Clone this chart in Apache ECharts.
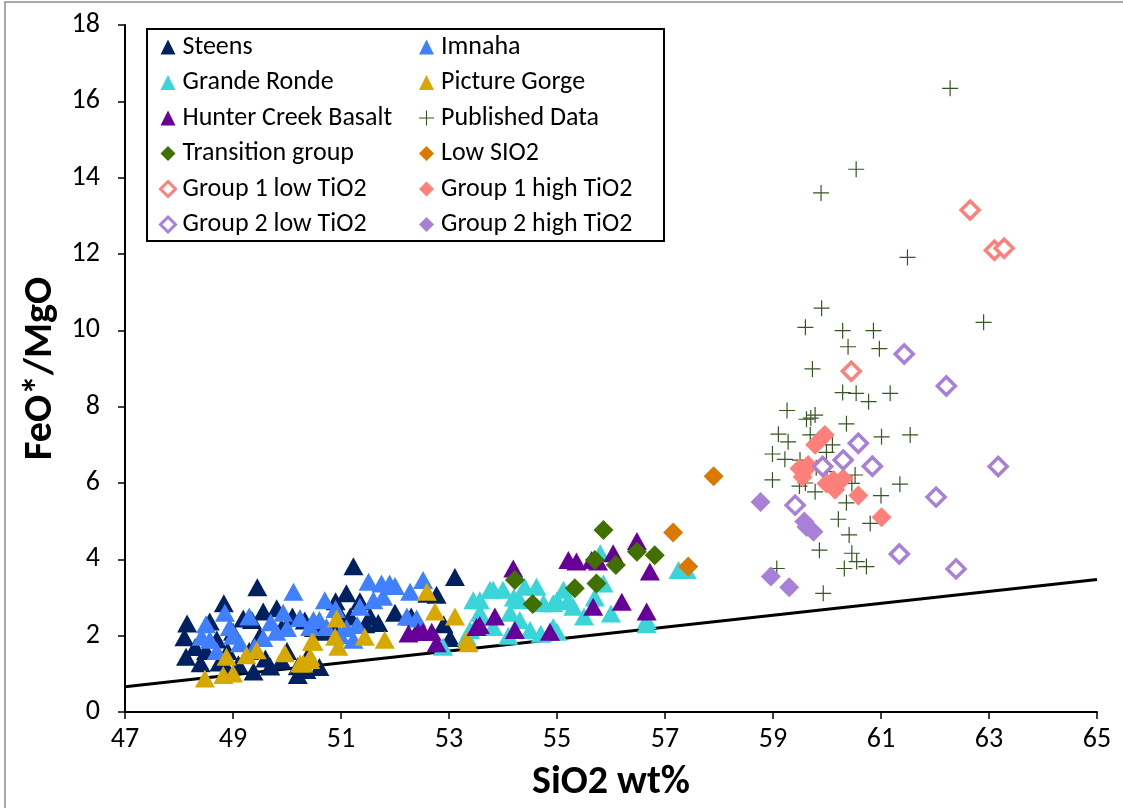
<!DOCTYPE html>
<html>
<head>
<meta charset="utf-8">
<script src="https://cdn.jsdelivr.net/npm/echarts@6/dist/echarts.min.js"></script>
<style>
html,body{margin:0;padding:0;background:#fff;}
#chart{width:1123px;height:808px;}
</style>
</head>
<body>
<div id="chart"></div>
<script>
// ---- Data (SiO2 wt%, FeO*/MgO) ----
var X_TICKS = [47, 49, 51, 53, 55, 57, 59, 61, 63, 65];
var Y_TICKS = [0, 2, 4, 6, 8, 10, 12, 14, 16, 18];

var DIVIDE_LINE = [[47, 0.66], [65, 3.47]];

var STEENS = [[48.15,2.32],[48.1,1.96],[48.13,1.45],[48.4,1.28],[48.57,2.37],[48.5,1.6],[48.7,1.9],[48.83,2.85],[48.75,1.3],[48.9,1.1],[49.0,2.1],[49.19,2.45],[49.35,2.41],[49.3,1.6],[49.38,1.06],[49.45,3.27],[49.56,2.63],[49.5,2.0],[49.6,1.4],[49.69,1.19],[49.81,2.72],[49.9,2.2],[50.0,1.6],[50.1,2.5],[50.2,0.97],[50.2,1.2],[50.33,2.4],[50.36,1.1],[50.5,2.2],[50.6,1.18],[50.64,2.1],[50.86,2.2],[50.9,2.9],[51.0,2.5],[51.1,3.11],[51.17,2.5],[51.23,3.82],[51.35,2.9],[51.45,2.3],[51.54,2.5],[51.69,2.33],[52.0,2.6],[52.3,2.5],[52.4,2.1],[52.6,3.1],[52.77,3.07],[52.9,2.3],[53.02,1.94],[53.11,3.54],[48.3,1.7],[48.9,1.6],[49.1,1.25],[49.9,1.35],[50.4,1.5]];

var IMNAHA = [[48.42,1.97],[48.57,1.89],[48.5,2.3],[48.85,2.6],[48.94,2.23],[49.13,1.8],[49.0,2.0],[49.3,2.5],[49.56,1.94],[49.8,2.1],[49.93,2.6],[50.12,3.15],[50.24,2.46],[50.43,2.23],[50.49,2.41],[50.6,2.41],[50.7,2.93],[50.73,2.23],[50.98,2.02],[51.23,1.89],[51.3,2.28],[51.35,2.76],[51.51,3.41],[51.6,2.93],[51.75,3.37],[51.78,3.02],[51.9,3.37],[52.22,2.5],[52.28,3.15],[52.4,2.45],[52.52,3.46],[49.7,2.35],[50.0,2.2],[48.7,1.6],[49.4,1.7],[50.9,2.7],[51.1,2.2],[52.0,3.3]];

var GRANDE_RONDE = [[52.89,1.71],[53.33,1.97],[53.39,2.15],[53.45,2.93],[53.57,2.93],[53.57,2.6],[53.76,3.2],[53.82,3.2],[53.82,2.23],[54.0,3.2],[54.13,2.6],[54.31,2.93],[54.31,2.41],[54.4,3.28],[54.5,2.15],[54.62,3.28],[54.75,2.85],[54.93,2.85],[54.93,2.23],[55.0,2.93],[55.12,3.2],[55.3,2.76],[55.5,2.5],[55.7,3.0],[55.8,4.16],[55.86,3.37],[56.0,2.58],[56.66,2.41],[57.25,3.72],[57.4,3.72],[54.1,2.0],[54.7,2.05],[55.0,2.1],[53.6,2.5],[54.2,3.0],[55.2,2.9],[56.66,2.3]];

var PICTURE_GORGE = [[48.48,0.88],[48.82,0.97],[49.0,1.01],[48.88,1.45],[49.25,1.49],[49.44,1.62],[49.96,1.54],[50.24,1.27],[50.3,1.27],[50.46,1.84],[50.43,1.36],[50.49,1.84],[50.43,1.45],[50.92,2.45],[50.89,1.97],[50.95,1.71],[51.44,1.97],[51.81,1.89],[52.59,3.15],[52.74,2.63],[53.11,2.5],[53.33,1.89],[53.36,1.8]];

var HUNTER_CREEK = [[52.25,2.06],[52.43,2.1],[52.52,2.1],[52.68,2.1],[52.77,1.8],[53.51,2.23],[53.57,2.28],[53.85,2.5],[54.19,3.76],[54.22,2.15],[54.87,2.1],[55.21,3.98],[55.36,3.94],[55.64,3.98],[55.76,3.94],[55.67,2.76],[56.04,4.16],[56.2,2.89],[56.48,4.48],[56.66,2.63],[56.72,3.68]];

var PUBLISHED = [[62.28,16.34],[60.54,14.22],[59.89,13.6],[61.49,11.91],[62.9,10.21],[59.9,10.58],[59.6,10.08],[60.29,9.99],[60.86,9.99],[60.39,9.57],[60.97,9.52],[59.73,8.99],[60.49,8.92],[60.29,8.37],[60.54,8.35],[60.77,8.13],[61.17,8.35],[59.26,7.9],[59.62,7.67],[59.78,7.78],[59.7,7.7],[60.36,7.55],[59.1,7.28],[59.28,7.08],[61.54,7.26],[61.01,7.21],[59.69,7.26],[60.1,7.0],[58.99,6.76],[59.22,6.62],[59.99,6.8],[59.49,5.92],[58.99,6.08],[59.78,5.77],[60.52,6.21],[60.46,5.99],[61.35,5.97],[60.36,5.48],[61.0,5.67],[60.21,5.05],[60.8,4.94],[60.41,4.64],[59.86,4.24],[60.46,4.16],[60.55,3.94],[60.32,3.76],[60.73,3.81],[59.07,3.76],[59.93,3.11],[59.8,6.4],[60.0,6.3],[59.6,6.0],[59.5,6.6]];

var TRANSITION = [[55.86,4.77],[56.48,4.2],[56.81,4.11],[55.7,3.98],[56.09,3.85],[55.33,3.24],[55.73,3.37],[54.22,3.46],[54.55,2.83]];

var LOW_SIO2 = [[57.15,4.7],[57.43,3.81],[57.9,6.18]];

var G1_LOW = [[62.65,13.15],[63.1,12.1],[63.28,12.15],[60.45,8.93]];

var G1_HIGH = [[59.88,7.14],[59.96,7.26],[59.78,7.0],[59.49,6.38],[59.6,6.34],[59.65,6.47],[59.55,6.16],[60.12,6.08],[59.99,5.99],[60.3,6.12],[60.15,5.82],[60.58,5.67],[61.01,5.1]];

var G2_LOW = [[59.41,5.42],[59.92,6.43],[60.3,6.6],[60.58,7.04],[60.84,6.44],[61.34,4.14],[61.43,9.38],[62.21,8.54],[63.17,6.43],[62.02,5.63],[62.39,3.75]];

var G2_HIGH = [[58.77,5.5],[59.58,4.99],[59.62,4.85],[59.75,4.72],[58.96,3.55],[59.3,3.27]];

// ---- Chart ----
var FONT = 'Carlito, Lato, "Open Sans", sans-serif';
var CROSS = 'path://M0,7.4H16V8.6H0Z M7.4,0H8.6V16H7.4Z';
var TRI = [20, 18];

function tri(name, data, color) {
  return {name: name, type: 'scatter', data: data, symbol: 'triangle', symbolSize: TRI,
    itemStyle: {color: color, opacity: 1}, emphasis: {disabled: true}};
}
function dia(name, data, color, hollow) {
  return {name: name, type: 'scatter', data: data, symbol: 'diamond',
    symbolSize: hollow ? 18 : 20,
    itemStyle: hollow ? {color: '#ffffff', borderColor: color, borderWidth: 3.5, opacity: 1}
                      : {color: color, opacity: 1},
    emphasis: {disabled: true}};
}

var C = {
  steens: '#002060', imnaha: '#4080ff', grande: '#3ad5d8', picture: '#d6a800',
  hunter: '#660099', pub: '#375623', trans: '#407000', low: '#da7800',
  g1: '#ff7f7a', g2: '#a880d8'
};

var series = [
  {name: 'divide', type: 'line', data: DIVIDE_LINE, symbol: 'none', silent: true,
   lineStyle: {color: '#000', width: 3}, z: 1},
  tri('Steens', STEENS, C.steens),
  tri('Imnaha', IMNAHA, C.imnaha),
  tri('Grande Ronde', GRANDE_RONDE, C.grande),
  tri('Picture Gorge', PICTURE_GORGE, C.picture),
  tri('Hunter Creek Basalt', HUNTER_CREEK, C.hunter),
  {name: 'Published Data', type: 'scatter', data: PUBLISHED, symbol: CROSS, symbolSize: 16,
   itemStyle: {color: C.pub, opacity: 1}, emphasis: {disabled: true}},
  dia('Transition group', TRANSITION, C.trans, false),
  dia('Low SIO2', LOW_SIO2, C.low, false),
  dia('Group 1 low TiO2', G1_LOW, C.g1, true),
  dia('Group 1 high TiO2', G1_HIGH, C.g1, false),
  dia('Group 2 low TiO2', G2_LOW, C.g2, true),
  dia('Group 2 high TiO2', G2_HIGH, C.g2, false)
];

function legItem(name, icon, color, hollow) {
  var it = {name: name, icon: icon};
  it.itemStyle = hollow ? {color: '#ffffff', borderColor: color, borderWidth: 3}
                        : {color: color, borderWidth: 0};
  return it;
}
var legendCommon = {
  orient: 'vertical', itemWidth: 15, itemHeight: 15, itemGap: 9.5,
  textStyle: {fontFamily: FONT, fontSize: 26, color: '#000', lineHeight: 26, padding: [0,0,0,2]},
  padding: 0, selectedMode: false, z: 10
};

var option = {
  backgroundColor: '#ffffff',
  animation: false,
  grid: {left: 125, right: 26, top: 25, bottom: 96, containLabel: false},
  xAxis: {
    type: 'value', min: X_TICKS[0], max: X_TICKS[X_TICKS.length - 1], interval: 2,
    name: 'SiO2 wt%', nameLocation: 'middle', nameGap: 51,
    nameTextStyle: {fontFamily: FONT, fontSize: 40, fontWeight: 'bold', color: '#000'},
    axisLine: {show: true, onZero: false, lineStyle: {color: '#000', width: 2}},
    axisTick: {show: true, inside: false, length: 7, lineStyle: {color: '#000', width: 1.5}},
    axisLabel: {fontFamily: FONT, fontSize: 28, color: '#000', margin: 14},
    splitLine: {show: false}
  },
  yAxis: {
    type: 'value', min: Y_TICKS[0], max: Y_TICKS[Y_TICKS.length - 1], interval: 2,
    name: 'FeO*/MgO', nameLocation: 'middle', nameGap: 63, nameRotate: 90,
    nameTextStyle: {fontFamily: FONT, fontSize: 40, fontWeight: 'bold', color: '#000'},
    axisLine: {show: true, onZero: false, lineStyle: {color: '#000', width: 2}},
    axisTick: {show: true, inside: false, length: 7, lineStyle: {color: '#000', width: 1.5}},
    axisLabel: {fontFamily: FONT, fontSize: 28, color: '#000', margin: 25},
    splitLine: {show: false}
  },
  legend: [
    Object.assign({}, legendCommon, {left: 159, top: 34, data: [
      legItem('Steens', 'triangle', C.steens),
      legItem('Grande Ronde', 'triangle', C.grande),
      legItem('Hunter Creek Basalt', 'triangle', C.hunter),
      legItem('Transition group', 'diamond', C.trans),
      legItem('Group 1 low TiO2', 'diamond', C.g1, true),
      legItem('Group 2 low TiO2', 'diamond', C.g2, true)
    ]}),
    Object.assign({}, legendCommon, {left: 419, top: 34, data: [
      legItem('Imnaha', 'triangle', C.imnaha),
      legItem('Picture Gorge', 'triangle', C.picture),
      legItem('Published Data', CROSS, C.pub),
      legItem('Low SIO2', 'diamond', C.low),
      legItem('Group 1 high TiO2', 'diamond', C.g1),
      legItem('Group 2 high TiO2', 'diamond', C.g2)
    ]})
  ],
  graphic: [
    {type: 'rect', z: 5, shape: {x: 147, y: 29, width: 517, height: 212},
     style: {fill: '#ffffff', stroke: '#000', lineWidth: 2}},
    {type: 'rect', z: 0, silent: true, shape: {x: 5, y: 2, width: 1300, height: 1000},
     style: {fill: 'none', stroke: '#8c8c8c', lineWidth: 1.5}}
  ],
  series: series
};

var chart = echarts.init(document.getElementById('chart'), null, {renderer: 'canvas'});
chart.setOption(option);
</script>
</body>
</html>
